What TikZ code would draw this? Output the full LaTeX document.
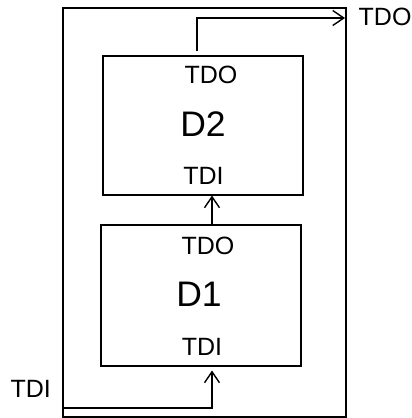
\documentclass[tikz,border=0pt]{standalone}
\usepackage{fontspec}
\setmainfont{Liberation Sans}
\usetikzlibrary{arrows.meta}
\begin{document}
\begin{tikzpicture}[x=1pt,y=-1pt,
  box/.style={draw,line width=2pt,minimum width=#1,inner sep=0pt,outer sep=0pt},
  lbl/.style={inner sep=0pt,font=\fontsize{25}{28}\selectfont},
  big/.style={inner sep=0pt,font=\fontsize{35.5}{40}\selectfont},
  arr/.style={line width=2pt,-{Straight Barb[length=11pt,width=15pt,line width=1.4pt]}}]
\useasboundingbox (0,0) rectangle (412,418);
\node[box=283pt,minimum height=409.5pt] (outer) at (204.5,212.25) {};
\node[box=200pt,minimum height=139pt] (d2) at (203,125.5) {};
\node[box=200pt,minimum height=141pt] (d1) at (201,295.5) {};
% labels
\node[lbl] (d2tdo) at (211,75) {TDO};
\node[big] (d2name) at (203,124.5) {D2};
\node[lbl] (d2tdi) at (203.5,176) {TDI};
\node[lbl] (d1tdo) at (208,245.5) {TDO};
\node[big] (d1name) at (199,294) {D1};
\node[lbl] (d1tdi) at (202,346.5) {TDI};
\node[lbl,anchor=west] (tdoout) at (358.5,16.5) {TDO};
\node[lbl,anchor=east] (tdiin) at (51,389) {TDI};
% connectors
\coordinate (inS) at (63,408);
\coordinate (inE) at (212,370.5);
\coordinate (midS) at (212,225);
\coordinate (midE) at (212,195.5);
\coordinate (outS) at (197,51);
\coordinate (outM) at (197,18);
\coordinate (outE) at (345,18);
\draw[arr] (inS) -| (inE);
\draw[arr] (midS) -- (midE);
\draw[arr] (outS) -- (outM) -- (outE);
\end{tikzpicture}
\end{document}
